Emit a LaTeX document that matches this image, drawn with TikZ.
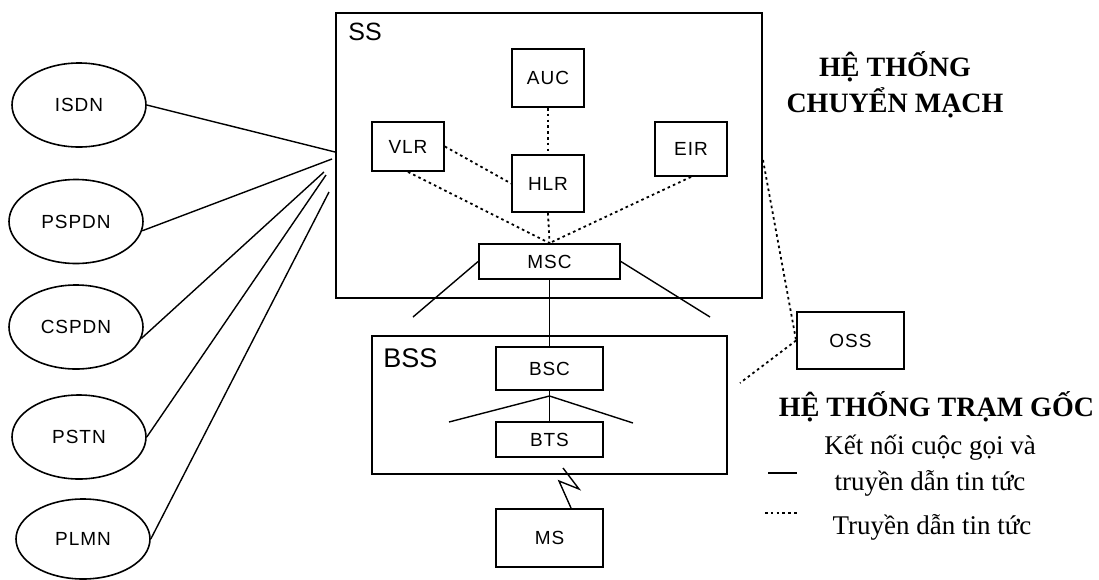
\documentclass[tikz,border=0pt]{standalone}
\usepackage{fontspec}
\setmainfont{Liberation Serif}
\setsansfont{Liberation Sans}
\newfontfamily\unitfont[LetterSpace=5]{Liberation Sans}
\usetikzlibrary{shapes.geometric}

\begin{document}
\begin{tikzpicture}[x=0.5pt, y=-0.5pt,
  unit/.style={draw, line width=0.9pt, inner sep=0pt,
    font=\unitfont\fontsize{9.5}{11}\selectfont},
  net/.style={ellipse, draw, line width=0.8pt, inner sep=0pt,
    minimum width=67pt, minimum height=42pt,
    font=\unitfont\fontsize{9.5}{11}\selectfont},
  grouplabel/.style={anchor=west, inner sep=0pt,
    font=\sffamily\fontsize{12.5}{14}\selectfont},
  link/.style={line width=0.7pt},
  info/.style={line width=0.9pt, dash pattern=on 1.3pt off 1.6pt},
  heading/.style={font=\bfseries\fontsize{14}{18}\selectfont, align=center},
  legend/.style={font=\fontsize{13.5}{18}\selectfont, align=center}]
  \useasboundingbox (0,0) rectangle (1099,579);
  % ---------- SS ----------
  \node[unit, minimum width=213pt, minimum height=142.5pt] (ss) at (549,155.5) {};
  \node[grouplabel] (ss-label) at (348,32) {SS};
  \node[unit, minimum width=36pt, minimum height=29pt] (auc) at (548,78) {AUC};
  \node[unit, minimum width=36pt, minimum height=24.5pt] (vlr) at (408,146.5) {VLR};
  \node[unit, minimum width=36pt, minimum height=28.5pt] (hlr) at (548,183.5) {HLR};
  \node[unit, minimum width=36pt, minimum height=27pt] (eir) at (691,149) {EIR};
  \node[unit, minimum width=70.5pt, minimum height=17.5pt] (msc) at (549.5,261.5) {MSC};
  \draw[info] (auc.south) -- (hlr.north);
  \draw[info] (vlr.east) -- (hlr.west);
  \draw[info] (vlr.south) -- (msc.north);
  \draw[info] (hlr.south) -- (msc.north);
  \draw[info] (eir.south) -- (msc.north);
  \coordinate (msc-l) at (413,317);
  \coordinate (msc-r) at (710,317);
  \draw[link] (msc.west) -- (msc-l);
  \draw[link] (msc.east) -- (msc-r);
  % ---------- BSS ----------
  \node[unit, minimum width=177.5pt, minimum height=69pt] (bss) at (549.5,405) {};
  \node[grouplabel, font=\sffamily\fontsize{13.5}{15}\selectfont] (bss-label) at (383,358) {BSS};
  \node[unit, minimum width=53.5pt, minimum height=21.5pt] (bsc) at (549.5,368.5) {BSC};
  \node[unit, minimum width=53.5pt, minimum height=17.5pt] (bts) at (549.5,439.5) {BTS};
  \node[unit, minimum width=53.5pt, minimum height=29pt] (ms) at (549.5,538) {MS};
  \draw[link] (msc.south) -- (bsc.north);
  \draw[link] (bsc.south) -- (bts.north);
  \coordinate (bts-fork) at (549.5,396);
  \coordinate (bts-l) at (449,422);
  \coordinate (bts-r) at (633,423);
  \draw[link] (bts-fork) -- (bts-l);
  \draw[link] (bts-fork) -- (bts-r);
  % radio link BTS - MS
  \draw[link] (563,468) -- (579,489) -- (559,481) -- (571,508);
  % ---------- OSS ----------
  \node[unit, minimum width=53.5pt, minimum height=28.5pt] (oss) at (850.5,340.5) {OSS};
  \coordinate (oss-ss) at (763,160);
  \coordinate (oss-bss) at (740,383);
  \draw[info] (oss-ss) -- (oss.west);
  \draw[info] (oss.west) -- (oss-bss);
  % ---------- external networks ----------
  \node[net] (isdn) at (79,105) {ISDN};
  \node[net] (pspdn) at (76,221.5) {PSPDN};
  \node[net] (cspdn) at (76,327) {CSPDN};
  \node[net] (pstn) at (79,437) {PSTN};
  \node[net, minimum height=40pt] (plmn) at (83,539) {PLMN};
  \coordinate (ss-isdn) at (335,152);
  \coordinate (ss-pspdn) at (332,159);
  \coordinate (ss-cspdn) at (324,172);
  \coordinate (ss-pstn) at (326,175);
  \coordinate (ss-plmn) at (329,192);
  \draw[link] (isdn.east) -- (ss-isdn);
  \draw[link] (pspdn.-8) -- (ss-pspdn);
  \draw[link] (cspdn.-10) -- (ss-cspdn);
  \draw[link] (pstn.east) -- (ss-pstn);
  \draw[link] (plmn.east) -- (ss-plmn);
  % ---------- headings and legend ----------
  \node[heading] (ss-title) at (895,85) {HỆ THỐNG\\CHUYỂN MẠCH};
  \node[heading] (bss-title) at (936.5,407) {HỆ THỐNG TRẠM GỐC};
  \node[legend] (legend-call) at (930,466) {Kết nối cuộc gọi và\\truyền dẫn tin tức};
  \node[legend] (legend-info) at (932,527) {Truyền dẫn tin tức};
  \draw[link] (768,473) -- (797,473);
  \draw[info] (765,513) -- (797,513);
\end{tikzpicture}
\end{document}
